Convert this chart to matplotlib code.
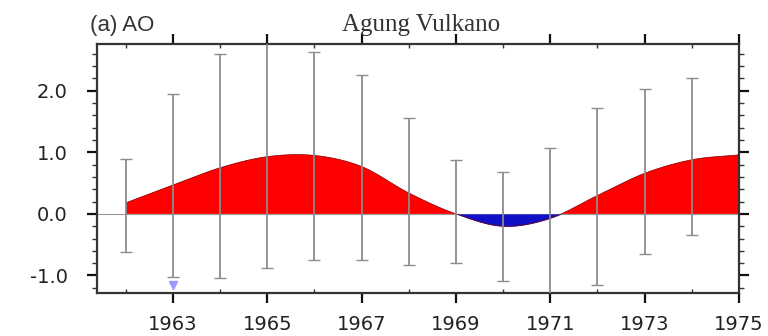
import matplotlib
matplotlib.use("Agg")
import matplotlib.pyplot as plt
from matplotlib.ticker import MultipleLocator, FixedLocator
import numpy as np

# ---- data ----
years = [1962, 1963, 1964, 1965, 1966, 1967, 1968, 1969, 1970, 1971, 1972, 1973, 1974, 1975]
ao = [0.18, 0.47, 0.75, 0.93, 0.95, 0.77, 0.34, 0.0, -0.2, -0.07, 0.30, 0.66, 0.88, 0.96]

err_years = [1962, 1963, 1964, 1965, 1966, 1967, 1968, 1969, 1970, 1971, 1972, 1973, 1974]
err_upper = [0.89, 1.94, 2.6, 2.9, 2.63, 2.25, 1.56, 0.88, 0.68, 1.07, 1.72, 2.03, 2.2]
err_lower = [-0.62, -1.02, -1.04, -0.88, -0.75, -0.75, -0.83, -0.8, -1.09, -1.4, -1.15, -0.65, -0.35]

sig_years = [1963]
sig_vals = [-1.15]

xtick_years = [1963, 1965, 1967, 1969, 1971, 1973, 1975]
ytick_vals = [-1.0, 0.0, 1.0, 2.0]
ytick_labels = ["-1.0", "0.0", "1.0", "2.0"]

title_left = "(a) AO"
title_center = "Agung Vulkano"


def catmull_rom(xs, ys, n=20):
    """Smooth drawing path through the given points (rendering only)."""
    xs = np.asarray(xs, float)
    ys = np.asarray(ys, float)
    px = np.concatenate([[2 * xs[0] - xs[1]], xs, [2 * xs[-1] - xs[-2]]])
    py = np.concatenate([[2 * ys[0] - ys[1]], ys, [2 * ys[-1] - ys[-2]]])
    outx, outy = [], []
    for i in range(1, len(px) - 2):
        t = np.linspace(0, 1, n, endpoint=False)
        p0, p1, p2, p3 = py[i - 1], py[i], py[i + 1], py[i + 2]
        yy = 0.5 * (2 * p1 + (-p0 + p2) * t + (2 * p0 - 5 * p1 + 4 * p2 - p3) * t ** 2
                    + (-p0 + 3 * p1 - 3 * p2 + p3) * t ** 3)
        xx = px[i] + (px[i + 1] - px[i]) * t
        outx.append(xx)
        outy.append(yy)
    outx.append([xs[-1]])
    outy.append([ys[-1]])
    return np.concatenate(outx), np.concatenate(outy)


# ---- figure ----
fig = plt.figure(figsize=(7.68, 3.36), dpi=100)
ax = fig.add_axes([97/768, 1-293/336, (739-97)/768, (293-44)/336])

x, y = catmull_rom(years, ao)

ax.fill_between(x, 0, y, where=y >= 0, interpolate=True, color="#ff0000", lw=0, zorder=2)
ax.fill_between(x, 0, y, where=y <= 0, interpolate=True, color="#1010c8", lw=0, zorder=2)
ax.plot(x, y, color="#800000", lw=0.5, zorder=3)
ax.axhline(0, color="#999999", lw=0.8, zorder=1)

eu = np.array(err_upper)
el = np.array(err_lower)
ex = np.array(err_years, dtype=float)
mid = (eu + el) / 2
ax.errorbar(ex, mid, yerr=[mid - el, eu - mid], fmt="none", ecolor="#8c8c8c",
            elinewidth=1.3, capsize=4, capthick=1.0, zorder=4)

ax.plot(sig_years, sig_vals, linestyle="none", marker="v", color="#9a9aff",
        markersize=6, zorder=5)

ax.set_xlim(1961.39, 1975.0)
ax.set_ylim(-1.285, 2.76)

ax.xaxis.set_major_locator(FixedLocator(xtick_years))
ax.xaxis.set_minor_locator(MultipleLocator(1))
ax.set_xticklabels([str(v) for v in xtick_years])
ax.yaxis.set_major_locator(FixedLocator(ytick_vals))
ax.set_yticklabels(ytick_labels)
ax.yaxis.set_minor_locator(MultipleLocator(0.2))

ax.tick_params(which="major", direction="out", length=7, width=1.6, color="#111111",
               top=True, right=True, labelsize=14)
ax.tick_params(axis="x", which="major", pad=9)
ax.tick_params(axis="y", which="major", pad=14)
ax.tick_params(which="minor", direction="out", length=3.5, width=1.0, color="#333333",
               top=True, right=True)
ax.tick_params(axis="x", which="minor", direction="in", length=3)
for lab in ax.get_xticklabels() + ax.get_yticklabels():
    lab.set_family("DejaVu Sans")
    lab.set_color("#222222")

for s in ax.spines.values():
    s.set_linewidth(1.6)
    s.set_color("#333333")

fig.text(90/768, 1-31/336, title_left, fontsize=16, family="Liberation Sans",
         color="#333333", ha="left", va="baseline")
fig.text(421/768, 1-31/336, title_center, fontsize=18, family="Liberation Serif",
         color="#333333", ha="center", va="baseline")

fig.savefig("out.png", dpi=100)
